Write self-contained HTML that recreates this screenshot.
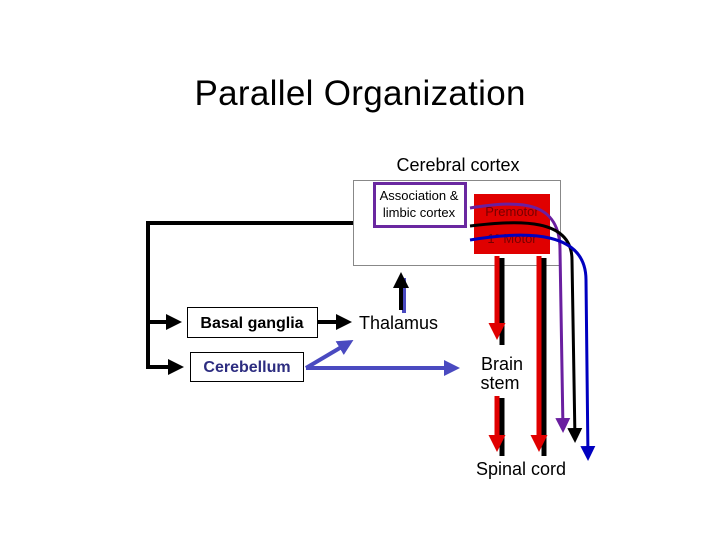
<!DOCTYPE html>
<html><head><style>
body{margin:0;width:720px;height:540px;background:#fff;overflow:hidden;font-family:"Liberation Sans",sans-serif}
</style></head><body>
<svg width="720" height="540" viewBox="0 0 720 540" xmlns="http://www.w3.org/2000/svg" font-family="Liberation Sans, sans-serif">
<defs>
<marker id="ak" markerWidth="4" markerHeight="4" refX="3" refY="2" orient="auto" markerUnits="strokeWidth"><path d="M0,0L4,2L0,4z" fill="#000"/></marker>
<marker id="ab" markerWidth="4" markerHeight="4" refX="3" refY="2" orient="auto" markerUnits="strokeWidth"><path d="M0,0L4,2L0,4z" fill="#4a4ac0"/></marker>
<marker id="ar" markerWidth="3.4" markerHeight="3.4" refX="2.2" refY="1.7" orient="auto" markerUnits="strokeWidth"><path d="M0,0L3.4,1.7L0,3.4z" fill="#e00000"/></marker>
<marker id="sk" markerWidth="5" markerHeight="5" refX="4" refY="2.5" orient="auto" markerUnits="strokeWidth"><path d="M0,0L5,2.5L0,5z" fill="#000"/></marker>
<marker id="sp" markerWidth="5" markerHeight="5" refX="4" refY="2.5" orient="auto" markerUnits="strokeWidth"><path d="M0,0L5,2.5L0,5z" fill="#6a1fa0"/></marker>
<marker id="sb" markerWidth="5" markerHeight="5" refX="4" refY="2.5" orient="auto" markerUnits="strokeWidth"><path d="M0,0L5,2.5L0,5z" fill="#0000c0"/></marker>
</defs>
<text x="360" y="105" font-size="35" text-anchor="middle" textLength="331">Parallel Organization</text>
<text x="458" y="171" font-size="18" text-anchor="middle">Cerebral cortex</text>
<rect x="353.5" y="180.5" width="207" height="85" fill="#fff" stroke="#888" stroke-width="1"/>
<rect x="374.5" y="183.5" width="91" height="43" fill="#fff" stroke="#6a28a0" stroke-width="3"/>
<text x="419" y="200" font-size="13" text-anchor="middle">Association &amp;</text>
<text x="419" y="217" font-size="13" text-anchor="middle">limbic cortex</text>
<rect x="474" y="194" width="76" height="60" fill="#e00000"/>
<text x="512" y="216" font-size="13" text-anchor="middle" fill="#700">Premotor</text>
<text x="512" y="243" font-size="13" text-anchor="middle" fill="#700">1° Motor</text>
<polyline points="353,223 148,223 148,367 180,367" fill="none" stroke="#000" stroke-width="4" marker-end="url(#ak)"/>
<line x1="148" y1="322" x2="178" y2="322" stroke="#000" stroke-width="4" marker-end="url(#ak)"/>
<rect x="187.5" y="307.5" width="130" height="30" fill="#fff" stroke="#000"/>
<text x="252" y="328" font-size="16" font-weight="bold" text-anchor="middle">Basal ganglia</text>
<rect x="190.5" y="352.5" width="113" height="29" fill="#fff" stroke="#000"/>
<text x="247" y="372" font-size="16" font-weight="bold" text-anchor="middle" fill="#2c2c80">Cerebellum</text>
<line x1="318" y1="322" x2="348" y2="322" stroke="#000" stroke-width="4" marker-end="url(#ak)"/>
<text x="359" y="329" font-size="18">Thalamus</text>
<line x1="404" y1="313" x2="404" y2="278" stroke="#4a4ac0" stroke-width="4"/>
<line x1="401" y1="310" x2="401" y2="276" stroke="#000" stroke-width="4" marker-end="url(#ak)"/>
<line x1="306" y1="368" x2="350" y2="342" stroke="#4a4ac0" stroke-width="4" marker-end="url(#ab)"/>
<line x1="306" y1="368" x2="456" y2="368" stroke="#4a4ac0" stroke-width="4" marker-end="url(#ab)"/>
<g stroke-width="5">
<line x1="502" y1="258" x2="502" y2="345" stroke="#000"/>
<line x1="497" y1="256" x2="497" y2="334" stroke="#e00000" marker-end="url(#ar)"/>
<line x1="502" y1="398" x2="502" y2="456" stroke="#000"/>
<line x1="497" y1="396" x2="497" y2="446" stroke="#e00000" marker-end="url(#ar)"/>
<line x1="544" y1="258" x2="544" y2="456" stroke="#000"/>
<line x1="539" y1="256" x2="539" y2="446" stroke="#e00000" marker-end="url(#ar)"/>
</g>
<text x="502" y="370" font-size="18" text-anchor="middle">Brain</text>
<text x="500" y="389" font-size="18" text-anchor="middle">stem</text>
<text x="521" y="475" font-size="18" text-anchor="middle">Spinal cord</text>
<path d="M470,208 C520,200 560,200 560,250 L563,430" fill="none" stroke="#6a1fa0" stroke-width="3" marker-end="url(#sp)"/>
<path d="M470,226 C520,220 572,218 572,260 L575,440" fill="none" stroke="#000" stroke-width="3" marker-end="url(#sk)"/>
<path d="M470,240 C530,230 586,232 586,280 L588,458" fill="none" stroke="#0000c0" stroke-width="3" marker-end="url(#sb)"/>
</svg>
</body></html>
